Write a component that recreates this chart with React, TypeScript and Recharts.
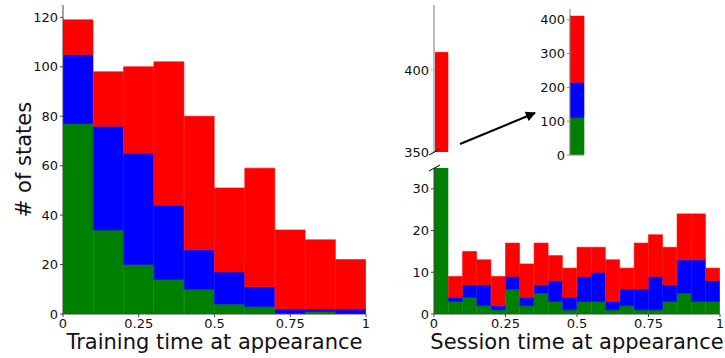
import React from 'react';
import { BarChart, Bar, XAxis, YAxis, Label } from 'recharts';

// Stacked histogram colours
const GREEN = '#008000';
const BLUE = '#0000ff';
const RED = '#ff0000';

// Training-time histogram: 10 bins of width 0.1
const trainingBins = [0.05, 0.15, 0.25, 0.35, 0.45, 0.55, 0.65, 0.75, 0.85, 0.95];
const trainingGreen = [77, 34, 20, 14, 10, 4, 3, 0, 1, 0];
const trainingBlue = [28, 42, 45, 30, 16, 13, 8, 2, 1, 2];
const trainingRed = [14, 22, 35, 58, 54, 34, 48, 32, 28, 20];

// Session-time histogram: 20 bins of width 0.05
const sessionBins = [
  0.025, 0.075, 0.125, 0.175, 0.225, 0.275, 0.325, 0.375, 0.425, 0.475,
  0.525, 0.575, 0.625, 0.675, 0.725, 0.775, 0.825, 0.875, 0.925, 0.975,
];
const sessionGreen = [111, 3, 4, 2, 1, 6, 2, 5, 3, 1, 3, 3, 1, 2, 1, 1, 3, 5, 3, 3];
const sessionBlue = [104, 1, 3, 5, 1, 3, 2, 2, 5, 3, 6, 7, 2, 4, 5, 8, 4, 8, 10, 5];
const sessionRed = [196, 5, 8, 6, 7, 8, 8, 10, 6, 7, 7, 6, 10, 5, 11, 10, 9, 11, 11, 3];

const xTicks = [0, 0.25, 0.5, 0.75, 1];
const trainingYTicks = [0, 20, 40, 60, 80, 100, 120];
const sessionLowTicks = [0, 10, 20, 30];
const sessionHighTicks = [350, 400];
const insetTicks = [0, 100, 200, 300, 400];

const trainingData = trainingBins.map((t, i) => ({
  t,
  green: trainingGreen[i],
  blue: trainingBlue[i],
  red: trainingRed[i],
}));

const sessionData = sessionBins.map((t, i) => ({
  t,
  green: sessionGreen[i],
  blue: sessionBlue[i],
  red: sessionRed[i],
}));

// first session bin on its own, for the full-height inset
const insetData = [sessionData[0]];

const W = 725;
const H = 358;
const FONT = '"DejaVu Sans", sans-serif';
const tickStyle = { fontSize: 13, fill: '#111', fontFamily: FONT };
const titleStyle = { fontSize: 21, fill: '#111', fontFamily: FONT };
const axisColor = '#444';

const layer: React.CSSProperties = { position: 'absolute', left: 0, top: 0 };

// same stroke as fill so neighbouring bins don't show seams
const bars = [
  <Bar key="g" dataKey="green" stackId="s" fill={GREEN} stroke={GREEN} strokeWidth={0.6} isAnimationActive={false} />,
  <Bar key="b" dataKey="blue" stackId="s" fill={BLUE} stroke={BLUE} strokeWidth={0.6} isAnimationActive={false} />,
  <Bar key="r" dataKey="red" stackId="s" fill={RED} stroke={RED} strokeWidth={0.6} isAnimationActive={false} />,
];

function YTitle(props: any) {
  const { viewBox } = props;
  const cx = viewBox.x + 8;
  const cy = viewBox.y + viewBox.height / 2;
  return (
    <text
      x={cx}
      y={cy}
      transform={`rotate(-90, ${cx}, ${cy})`}
      textAnchor="middle"
      fontSize={21}
      fontFamily={FONT}
      fill="#111"
    >
      # of states
    </text>
  );
}

export default function App() {
  return (
    <div style={{ position: 'absolute', left: 0, top: 0, width: W, height: H, background: '#fff', fontFamily: FONT }}>
      {/* training time */}
      <div style={layer}>
        <BarChart
          width={370}
          height={H}
          data={trainingData}
          margin={{ top: 5, right: 4, bottom: 0, left: 23 }}
          barCategoryGap={0}
          barGap={0}
        >
          <XAxis
            dataKey="t"
            type="number"
            domain={[0, 1]}
            allowDataOverflow
            ticks={xTicks}
            interval={0}
            height={44}
            tick={tickStyle}
            tickSize={3}
            tickMargin={2}
            stroke={axisColor}
          >
            <Label value="Training time at appearance" position="insideBottom" offset={9} style={titleStyle} />
          </XAxis>
          <YAxis
            type="number"
            domain={[0, 125]}
            allowDataOverflow
            ticks={trainingYTicks}
            interval={0}
            width={40}
            tick={tickStyle}
            tickSize={3}
            tickMargin={2}
            stroke={axisColor}
          >
            <Label content={<YTitle />} />
          </YAxis>
          {bars}
        </BarChart>
      </div>

      {/* session time, lower segment of the broken axis */}
      <div style={layer}>
        <BarChart
          width={W}
          height={H}
          data={sessionData}
          margin={{ top: 168, right: 5, bottom: 0, left: 394 }}
          barCategoryGap={0}
          barGap={0}
        >
          <XAxis
            dataKey="t"
            type="number"
            domain={[0, 1]}
            allowDataOverflow
            ticks={xTicks}
            interval={0}
            height={44}
            tick={tickStyle}
            tickSize={3}
            tickMargin={2}
            stroke={axisColor}
          >
            <Label value="Session time at appearance" position="insideBottom" offset={9} style={titleStyle} />
          </XAxis>
          <YAxis
            type="number"
            domain={[0, 35]}
            allowDataOverflow
            ticks={sessionLowTicks}
            interval={0}
            width={40}
            tick={tickStyle}
            tickSize={3}
            tickMargin={2}
            stroke={axisColor}
          />
          {bars}
        </BarChart>
      </div>

      {/* session time, upper segment of the broken axis */}
      <div style={layer}>
        <BarChart
          width={W}
          height={H}
          data={sessionData}
          margin={{ top: 5, right: 5, bottom: H - 152, left: 394 }}
          barCategoryGap={0}
          barGap={0}
        >
          <XAxis dataKey="t" type="number" domain={[0, 1]} allowDataOverflow hide />
          <YAxis
            type="number"
            domain={[350, 440]}
            allowDataOverflow
            ticks={sessionHighTicks}
            interval={0}
            width={40}
            tick={tickStyle}
            tickSize={3}
            tickMargin={2}
            stroke="#bbb"
            axisLine={{ stroke: '#bbb', strokeWidth: 2 }}
          />
          {bars}
        </BarChart>
      </div>

      {/* inset: full height of the first session bin */}
      <div style={layer}>
        <BarChart
          width={W}
          height={H}
          data={insetData}
          margin={{ top: 9, right: W - 584, bottom: H - 156, left: 530 }}
          barCategoryGap={0}
          barGap={0}
        >
          <XAxis dataKey="t" height={1} tick={false} tickLine={false} stroke="#888" />
          <YAxis
            type="number"
            domain={[0, 432]}
            allowDataOverflow
            ticks={insetTicks}
            interval={0}
            width={40}
            tick={tickStyle}
            tickSize={3}
            tickMargin={2}
            stroke="#888"
          />
          {bars}
        </BarChart>
      </div>

      {/* axis-break marks and the pointer to the inset */}
      <svg width={W} height={H} style={{ ...layer, pointerEvents: 'none' }}>
        <defs>
          <marker id="head" viewBox="0 0 10 10" refX="9" refY="5" markerWidth="6" markerHeight="5" orient="auto">
            <path d="M0,0 L10,5 L0,10 z" fill="#000" />
          </marker>
        </defs>
        <line x1={429} y1={155} x2={440} y2={149} stroke="#000" strokeWidth={1} />
        <line x1={429} y1={171} x2={440} y2={165} stroke="#000" strokeWidth={1} />
        <line x1={460} y1={144} x2={535} y2={113} stroke="#000" strokeWidth={2} markerEnd="url(#head)" />
      </svg>
    </div>
  );
}
